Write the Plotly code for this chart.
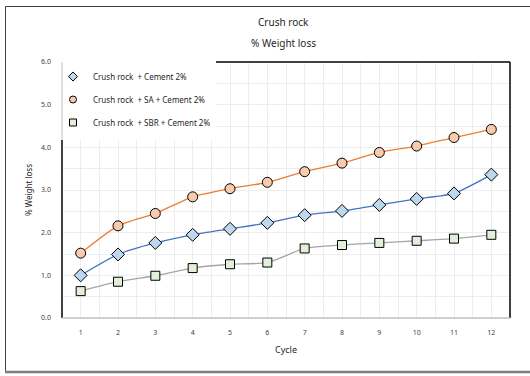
import plotly.graph_objects as go

# Weight loss (%) per wetting/drying cycle
cycles = list(range(1, 13))
cement = [1.00, 1.49, 1.76, 1.95, 2.09, 2.23, 2.41, 2.51, 2.65, 2.79, 2.92, 3.36]
sa_cement = [1.52, 2.16, 2.45, 2.84, 3.03, 3.18, 3.43, 3.63, 3.88, 4.03, 4.23, 4.42]
sbr_cement = [0.63, 0.85, 0.99, 1.17, 1.26, 1.30, 1.63, 1.71, 1.76, 1.81, 1.86, 1.95]

series_names = [
    "Crush rock\u00a0 + Cement 2%",
    "Crush rock\u00a0 + SA + Cement 2%",
    "Crush rock\u00a0 + SBR + Cement 2%",
]
y_ticks = [0, 1, 2, 3, 4, 5, 6]

FONT = "Noto Sans"
W, H = 530, 376
ML, MR, MT, MB = 62, 20, 62, 58
PW, PH = W - ML - MR, H - MT - MB


def px_x(px):
    return (px - ML) / PW


def px_y(py):
    return (H - MB - py) / PH


styles = [
    dict(line="#4472C4", fill="#BDD7EE", symbol="diamond", size=10),
    dict(line="#ED7D31", fill="#F8CBAD", symbol="circle", size=10),
    dict(line="#A5A5A5", fill="#E2EFDA", symbol="square", size=9),
]

fig = go.Figure()
for name, vals, st in zip(series_names, [cement, sa_cement, sbr_cement], styles):
    fig.add_trace(go.Scatter(
        x=cycles, y=vals, name=name, mode="lines+markers",
        line=dict(color=st["line"], width=1.3, shape="spline", smoothing=0.6),
        marker=dict(symbol=st["symbol"], size=st["size"], color=st["fill"],
                    line=dict(color="#000000", width=1)),
        showlegend=False, cliponaxis=False,
    ))
    # marker-only key for the legend
    fig.add_trace(go.Scatter(
        x=[None], y=[None], name=name, mode="markers", legendgroup=name,
        marker=dict(symbol=st["symbol"], size=7, color=st["fill"],
                    line=dict(color="#000000", width=1)),
    ))

axis_font = dict(family=FONT, size=7, color="#404040")
fig.update_xaxes(
    range=[0.5, 12.5], tickvals=cycles, ticktext=[str(c) for c in cycles],
    tickfont=axis_font, ticklabelstandoff=9,
    showgrid=True, gridcolor="#EDEDED", gridwidth=1,
    minor=dict(dtick=0.5, tick0=0.5, showgrid=True, gridcolor="#EDEDED", gridwidth=1),
    showline=False, zeroline=False, fixedrange=True,
    title=dict(text="Cycle", font=dict(family=FONT, size=9, color="#262626"), standoff=10),
)
fig.update_yaxes(
    range=[0, 6], tickvals=y_ticks, tickformat=".1f",
    tickfont=axis_font, ticklabelstandoff=10,
    showgrid=True, gridcolor="#EDEDED", gridwidth=1,
    minor=dict(dtick=0.5, tick0=0, showgrid=True, gridcolor="#EDEDED", gridwidth=1),
    showline=False, zeroline=False, fixedrange=True,
    title=dict(text="% Weight loss", font=dict(family=FONT, size=8, color="#262626"), standoff=7),
)

legend_top, legend_bottom, legend_right = 58, 140, 216
shapes = [
    # white box behind the legend
    dict(type="rect", xref="paper", yref="paper", x0=px_x(63), x1=px_x(legend_right),
         y0=px_y(legend_bottom), y1=px_y(legend_top), fillcolor="#FFFFFF",
         line=dict(width=0), layer="above"),
    # plot area frame
    dict(type="line", xref="paper", yref="paper", x0=px_x(legend_right), x1=1, y0=1, y1=1,
         line=dict(color="#000000", width=1.5), layer="above"),
    dict(type="line", xref="paper", yref="paper", x0=1, x1=1, y0=0, y1=1,
         line=dict(color="#000000", width=1.5), layer="above"),
    dict(type="line", xref="paper", yref="paper", x0=0, x1=0, y0=0, y1=px_y(legend_bottom),
         line=dict(color="#000000", width=1.5), layer="above"),
    dict(type="line", xref="paper", yref="paper", x0=0, x1=0, y0=px_y(legend_bottom), y1=1,
         line=dict(color="#BFBFBF", width=1), layer="above"),
    dict(type="line", xref="paper", yref="paper", x0=0, x1=1, y0=0, y1=0,
         line=dict(color="#BFBFBF", width=1.5), layer="above"),
    # outer chart border
    dict(type="line", xref="paper", yref="paper", x0=px_x(5.5), x1=px_x(W + 5), y0=px_y(6.5), y1=px_y(6.5),
         line=dict(color="#404040", width=1), layer="above"),
    dict(type="line", xref="paper", yref="paper", x0=px_x(5.5), x1=px_x(5.5), y0=px_y(6.5), y1=px_y(372),
         line=dict(color="#404040", width=1), layer="above"),
    dict(type="line", xref="paper", yref="paper", x0=px_x(5), x1=px_x(W + 5), y0=px_y(372), y1=px_y(372),
         line=dict(color="#7F7F7F", width=2.5), layer="above"),
]

annotations = [
    dict(text="Crush rock", xref="paper", yref="paper", x=px_x(283), y=px_y(22),
         xanchor="center", yanchor="middle",
         showarrow=False, font=dict(family=FONT, size=10, color="#262626")),
    dict(text="% Weight loss", xref="paper", yref="paper", x=px_x(283), y=px_y(43),
         xanchor="center", yanchor="middle",
         showarrow=False, font=dict(family=FONT, size=10, color="#262626")),
]

fig.update_layout(
    width=W, height=H,
    margin=dict(l=ML, r=MR, t=MT, b=MB, pad=0),
    paper_bgcolor="#FFFFFF", plot_bgcolor="#FFFFFF",
    shapes=shapes, annotations=annotations,
    showlegend=True,
    legend=dict(
        x=px_x(53), y=px_y(62), xanchor="left", yanchor="top",
        bgcolor="rgba(0,0,0,0)", borderwidth=0,
        font=dict(family=FONT, size=8, color="#262626"),
        itemwidth=30, tracegroupgap=4,
    ),
)

fig.write_html("out.html")
